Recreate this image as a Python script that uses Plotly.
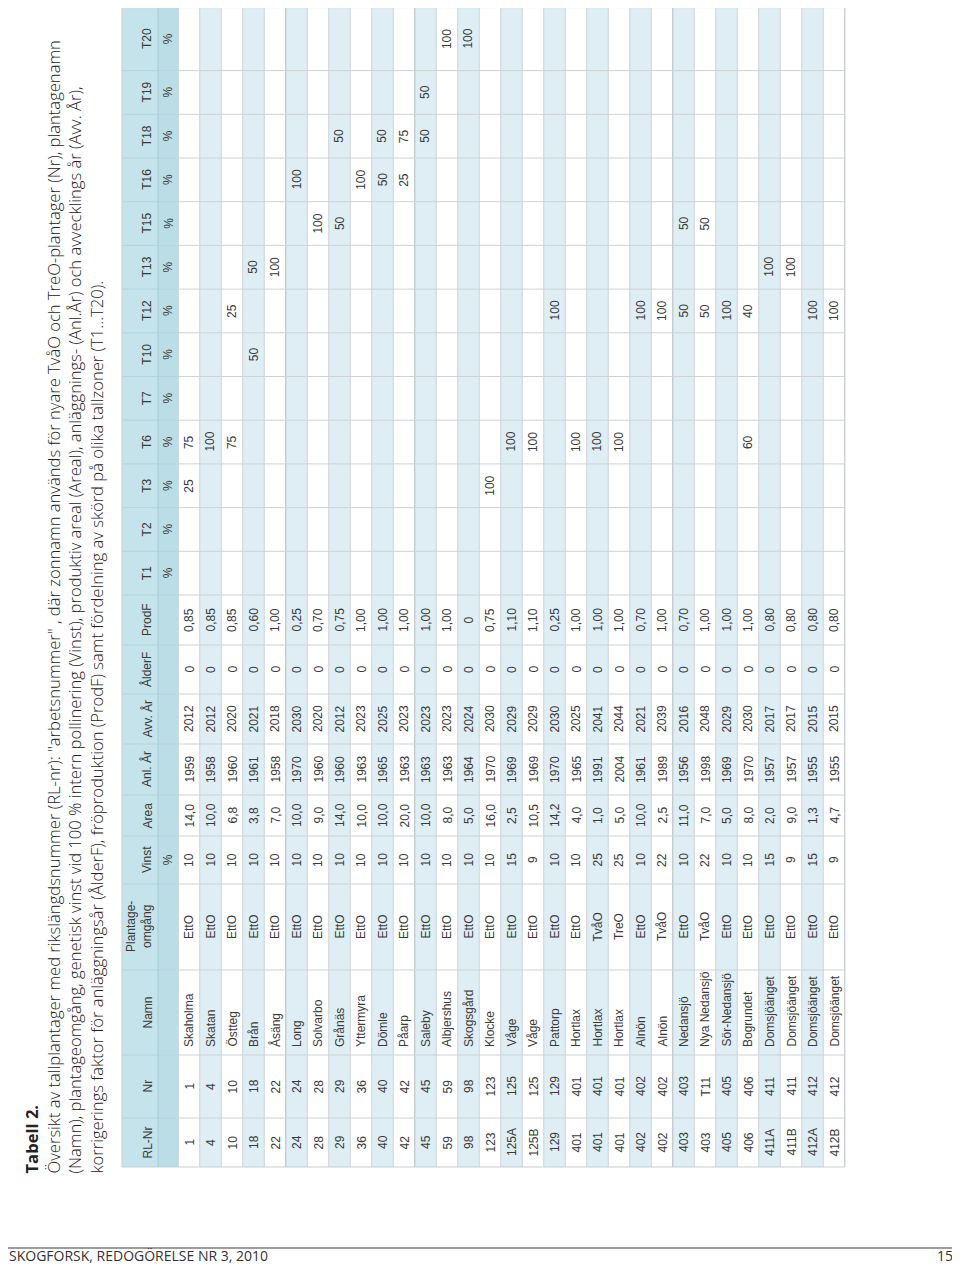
import plotly.graph_objects as go

# ---------------- data ----------------
rl_nr = ["1", "4", "10", "18", "22", "24", "28", "29", "36", "40", "42", "45", "59", "98", "123",
         "125A", "125B", "129", "401", "401", "401", "402", "402", "403", "403", "405", "406",
         "411A", "411B", "412A", "412B"]
nr = ["1", "4", "10", "18", "22", "24", "28", "29", "36", "40", "42", "45", "59", "98", "123",
      "125", "125", "129", "401", "401", "401", "402", "402", "403", "T11", "405", "406",
      "411", "411", "412", "412"]
namn = ["Skaholma", "Skatan", "Östteg", "Brån", "Åsäng", "Long", "Solvarbo", "Grånäs", "Yttermyra",
        "Dömle", "Påarp", "Saleby", "Albjershus", "Skogsgård", "Klocke", "Våge", "Våge", "Pattorp",
        "Hortlax", "Hortlax", "Hortlax", "Alnön", "Alnön", "Nedansjö", "Nya Nedansjö",
        "Sör-Nedansjö", "Bogrundet", "Domsjöänget", "Domsjöänget", "Domsjöänget", "Domsjöänget"]
omgang = ["EttO", "EttO", "EttO", "EttO", "EttO", "EttO", "EttO", "EttO", "EttO", "EttO", "EttO",
          "EttO", "EttO", "EttO", "EttO", "EttO", "EttO", "EttO", "EttO", "TvåO", "TreO", "EttO",
          "TvåO", "EttO", "TvåO", "EttO", "EttO", "EttO", "EttO", "EttO", "EttO"]
vinst = [10, 10, 10, 10, 10, 10, 10, 10, 10, 10, 10, 10, 10, 10, 10, 15, 9, 10, 10, 25, 25, 10,
         22, 10, 22, 10, 10, 15, 9, 15, 9]
area = [14.0, 10.0, 6.8, 3.8, 7.0, 10.0, 9.0, 14.0, 10.0, 10.0, 20.0, 10.0, 8.0, 5.0, 16.0, 2.5,
        10.5, 14.2, 4.0, 1.0, 5.0, 10.0, 2.5, 11.0, 7.0, 5.0, 8.0, 2.0, 9.0, 1.3, 4.7]
anl_ar = [1959, 1958, 1960, 1961, 1958, 1970, 1960, 1960, 1963, 1965, 1963, 1963, 1963, 1964, 1970,
          1969, 1969, 1970, 1965, 1991, 2004, 1961, 1989, 1956, 1998, 1969, 1970, 1957, 1957,
          1955, 1955]
avv_ar = [2012, 2012, 2020, 2021, 2018, 2030, 2020, 2012, 2023, 2025, 2023, 2023, 2023, 2024, 2030,
          2029, 2029, 2030, 2025, 2041, 2044, 2021, 2039, 2016, 2048, 2029, 2030, 2017, 2017,
          2015, 2015]
alderf = [0, 0, 0, 0, 0, 0, 0, 0, 0, 0, 0, 0, 0, 0, 0, 0, 0, 0, 0, 0, 0, 0, 0, 0, 0, 0, 0, 0, 0, 0, 0]
prodf = [0.85, 0.85, 0.85, 0.60, 1.00, 0.25, 0.70, 0.75, 1.00, 1.00, 1.00, 1.00, 1.00, 0, 0.75,
         1.10, 1.10, 0.25, 1.00, 1.00, 1.00, 0.70, 1.00, 0.70, 1.00, 1.00, 1.00, 0.80, 0.80,
         0.80, 0.80]
zones = ["T1", "T2", "T3", "T6", "T7", "T10", "T12", "T13", "T15", "T16", "T18", "T19", "T20"]
zone_shares = [
    {"T3": 25, "T6": 75}, {"T6": 100}, {"T6": 75, "T12": 25}, {"T10": 50, "T13": 50},
    {"T13": 100}, {"T16": 100}, {"T15": 100}, {"T15": 50, "T18": 50}, {"T16": 100},
    {"T16": 50, "T18": 50}, {"T16": 25, "T18": 75}, {"T18": 50, "T19": 50}, {"T20": 100},
    {"T20": 100}, {"T3": 100}, {"T6": 100}, {"T6": 100}, {"T12": 100}, {"T6": 100},
    {"T6": 100}, {"T6": 100}, {"T12": 100}, {"T12": 100}, {"T12": 50, "T15": 50},
    {"T12": 50, "T15": 50}, {"T12": 100}, {"T6": 60, "T12": 40}, {"T13": 100}, {"T13": 100},
    {"T12": 100}, {"T12": 100},
]
headers = ["RL-Nr", "Nr", "Namn", "Plantage-<br>omgång", "Vinst", "Area", "Anl. År", "Avv. År",
           "ÅlderF", "ProdF"] + zones
title_lines = [
    "<b>Tabell 2.</b>",
    "Översikt av tallplantager med rikslängdsnummer (RL-nr): \"arbetsnummer\" , där zonnamn används för nyare TvåO och TreO-plantager (Nr), plantagenamn",
    "(Namn), plantageomgång, genetisk vinst vid 100 % intern pollinering (Vinst), produktiv areal (Areal), anläggnings- (Anl.År) och avvecklings år (Avv. År),",
    "korrigerings faktor för anläggningsår (ÅlderF), fröproduktion (ProdF) samt fördelning av skörd på olika tallzoner (T1…T20).",
]
footer_left = "SKOGFORSK, REDOGÖRELSE NR 3, 2010"
footer_right = "15"

# ---------------- layout / style ----------------
PAGE_W, PAGE_H = 960, 1274
OFF = 8                      # default body margin of the html page
W, H = PAGE_W - OFF, PAGE_H - 2 * OFF
ROW_H = 21.5
ROW0_PX = 189.0
HDR_L, HDR_SPLIT = 122.0, 158.0
TABLE_BOTTOM = 1167.0
col_w = [49, 63, 85, 86, 48, 41, 51, 50, 49, 50] + [43.7] * 12 + [63]
group_breaks = [5, 11, 23]   # slightly darker separators seen in the print

TXT = "#3a3a3a"
TFONT = "Liberation Sans Narrow, Arial Narrow, Liberation Sans, sans-serif"
HDR_BG = "#c4e3eb"
PCT_BG = "#badde6"
STRIPE = "#deeef4"
GRID = "#cdd3d6"


def rx(px):
    return (px - ROW0_PX) / ROW_H


def paper_x(px):
    return (px - OFF) / W


def paper_y(py):
    return 1 - (py - OFF) / H


edges = [TABLE_BOTTOM]
for w in col_w:
    edges.append(edges[-1] - w)
centers = [(edges[k] + edges[k + 1]) / 2 for k in range(len(col_w))]
TOP = edges[-1]
n = len(rl_nr)


def fmt_dec(v, d):
    if v == 0 and d == 2:
        return "0"
    return f"{v:.{d}f}".replace(".", ",")


columns = [
    rl_nr, nr, namn, omgang,
    [str(v) for v in vinst],
    [fmt_dec(v, 1) for v in area],
    [str(v) for v in anl_ar],
    [str(v) for v in avv_ar],
    [str(v) for v in alderf],
    [fmt_dec(v, 2) for v in prodf],
] + [[str(s[z]) if z in s else "" for s in zone_shares] for z in zones]

shapes = []
ann = []

# header backgrounds
shapes.append(dict(type="rect", xref="x", yref="y", x0=rx(HDR_L), x1=rx(HDR_SPLIT), y0=TOP, y1=TABLE_BOTTOM,
                   fillcolor=HDR_BG, line=dict(width=0), layer="below"))
shapes.append(dict(type="rect", xref="x", yref="y", x0=rx(HDR_SPLIT), x1=-0.5, y0=TOP, y1=TABLE_BOTTOM,
                   fillcolor=PCT_BG, line=dict(width=0), layer="below"))
# stripes
for i in range(n):
    if i % 2 == 1:
        shapes.append(dict(type="rect", xref="x", yref="y", x0=i - 0.5, x1=i + 0.5, y0=TOP, y1=TABLE_BOTTOM,
                           fillcolor=STRIPE, line=dict(width=0), layer="below"))
# row boundaries
for i in range(n + 1):
    col = "#b4bcc0" if i in group_breaks else GRID
    shapes.append(dict(type="line", xref="x", yref="y", x0=i - 0.5, x1=i - 0.5, y0=TOP, y1=TABLE_BOTTOM,
                       line=dict(color=col, width=1)))
# column boundaries
for e in edges[1:-1]:
    shapes.append(dict(type="line", xref="x", yref="y", x0=-0.5, x1=n - 0.5, y0=e, y1=e,
                       line=dict(color=GRID, width=1)))
    shapes.append(dict(type="line", xref="x", yref="y", x0=rx(HDR_L), x1=-0.5, y0=e, y1=e,
                       line=dict(color="#b3d4de", width=1)))
shapes.append(dict(type="line", xref="x", yref="y", x0=rx(HDR_SPLIT), x1=rx(HDR_SPLIT), y0=TOP, y1=TABLE_BOTTOM,
                   line=dict(color="#a8cdd8", width=1)))
# outer border
shapes.append(dict(type="rect", xref="x", yref="y", x0=rx(HDR_L), x1=n - 0.5, y0=TOP, y1=TABLE_BOTTOM,
                   line=dict(color="#c8cfd2", width=1)))

# header labels
for k, h in enumerate(headers):
    ann.append(dict(x=rx(HDR_SPLIT - 2), y=centers[k], xref="x", yref="y", text=h, textangle=-90,
                    showarrow=False, xanchor="right", yanchor="middle",
                    font=dict(family=TFONT, size=12, color=TXT)))
# % row
pct_cols = [4] + list(range(10, 10 + len(zones)))
for k in pct_cols:
    ann.append(dict(x=rx((HDR_SPLIT + ROW0_PX - ROW_H / 2) / 2), y=centers[k], xref="x", yref="y", text="%",
                    textangle=-90, showarrow=False, xanchor="center", yanchor="middle",
                    font=dict(family=TFONT, size=12, color=TXT)))
# body
for k, col in enumerate(columns):
    for i, v in enumerate(col):
        if v == "":
            continue
        if k == 2:
            ann.append(dict(x=i, y=edges[k] - 6, xref="x", yref="y", text=v, textangle=-90,
                            showarrow=False, xanchor="center", yanchor="bottom",
                            font=dict(family=TFONT, size=12, color=TXT)))
        else:
            ann.append(dict(x=i, y=centers[k], xref="x", yref="y", text=v, textangle=-90,
                            showarrow=False, xanchor="center", yanchor="middle",
                            font=dict(family=TFONT, size=12, color=TXT)))

# title
title_x_px = [31, 53, 74, 96]
for j, line in enumerate(title_lines):
    ann.append(dict(x=paper_x(title_x_px[j]), y=paper_y(1176), xref="paper", yref="paper", text=line,
                    textangle=-90, showarrow=False, xanchor="center", yanchor="bottom",
                    font=dict(family="Open Sans, sans-serif", size=16.6, color="#222222", weight=300)))

# footer
shapes.append(dict(type="line", xref="paper", yref="paper", x0=0, x1=1, y0=paper_y(1248), y1=paper_y(1248),
                   line=dict(color="#9d9d9d", width=2)))
ann.append(dict(x=paper_x(OFF), y=0, xref="paper", yref="paper", text=footer_left, showarrow=False,
                xanchor="left", yanchor="bottom", borderpad=0,
                font=dict(family="Liberation Sans Narrow, Open Sans, sans-serif", size=14, color="#333333")))
ann.append(dict(x=paper_x(954), y=0, xref="paper", yref="paper", text=footer_right, showarrow=False,
                xanchor="right", yanchor="bottom", borderpad=0,
                font=dict(family="Liberation Sans Narrow, Open Sans, sans-serif", size=14, color="#333333")))

fig = go.Figure()
fig.update_layout(
    width=W, height=H, margin=dict(l=0, r=0, t=0, b=0),
    paper_bgcolor="white", plot_bgcolor="white",
    xaxis=dict(range=[rx(OFF), rx(OFF + W)], visible=False, fixedrange=True),
    yaxis=dict(range=[OFF + H, OFF], visible=False, fixedrange=True),
    shapes=shapes, annotations=ann, showlegend=False,
)
fig.write_html("out.html")
